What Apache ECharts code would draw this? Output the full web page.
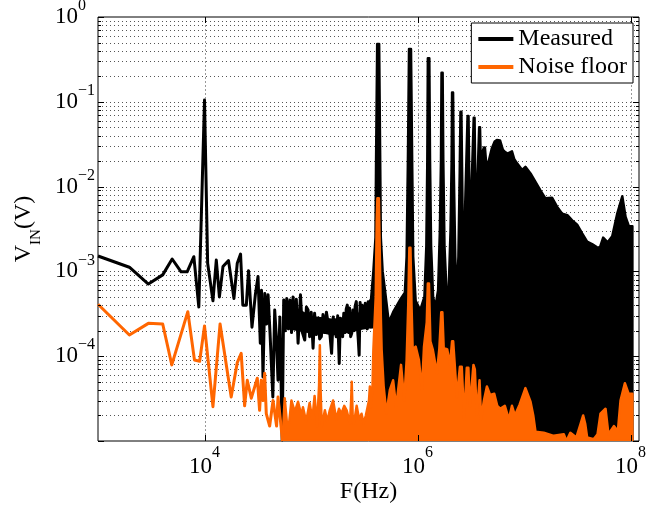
<!DOCTYPE html>
<html><head><meta charset="utf-8">
<script src="https://cdn.jsdelivr.net/npm/echarts@6/dist/echarts.min.js"></script>
<style>html,body{margin:0;padding:0;background:#fff}#c{width:668px;height:506px}</style>
</head><body><div id="c"></div>
<script>
const FONT = "'Liberation Serif','Times New Roman',serif";
const X_MIN = 1e3, X_MAX = 1.2e8, Y_MIN = 1e-5, Y_MAX = 1;
const xLabelledExponents = [4, 6, 8];
const xMajorTicks = [1e4, 1e6, 1e8];
const yDecades = [-5, -4, -3, -2, -1];
const minorMultipliers = [2, 3, 4, 5, 6, 7, 8, 9];
const seriesNames = ['Measured', 'Noise floor'];

// Measured: sparse low-frequency part drawn as a line [Hz, V]
const measuredLine = [
[1000,1.52e-3],[1970,1.12e-3],[2970,7.1e-4],[4050,9.1e-4],[4970,1.4e-3],[6030,9.9e-4],[6870,9.9e-4],
[7940,1.49e-3],[8840,3.8e-4],[10000,0.105],[10700,1.25e-3],[12000,4.5e-4],[12900,1.36e-3],[13800,5.0e-4],
[14900,1.14e-3],[16800,1.34e-3],[18900,4.8e-4],[20300,1.25e-3],[21800,1.6e-3],[22900,4.0e-4],[24700,4.0e-4],
[25900,1.02e-3],[27900,2.2e-4],[30000,5.3e-4],[31800,8.7e-4],[33400,1.42e-4],[34300,6.0e-4],[35400,5.7e-5],
[36800,5.5e-4],[38300,2.4e-4],[39500,5.3e-4],[41200,1.9e-4],[43800,3.3e-5],[45600,3.5e-4],[47200,1.7e-4],
[49000,5.2e-5],[51000,2.9e-4],[53600,1.03e-5],[55400,4.6e-4],[57300,2.0e-4],[59200,4.8e-4],[61300,2.1e-4],
[63500,4.6e-4],[65600,1.9e-4],[67800,5.0e-4],[70200,2.1e-4],[72800,4.7e-4],[75600,1.42e-4],[79600,5.3e-4],
[83000,1.9e-4],[87300,1.55e-4],[90500,3.8e-4],[93800,3.5e-4],[97000,1.7e-4],[100500,3.3e-4],[104500,1.24e-4],
[108000,3.2e-4],[112000,1.8e-4],[116500,2.8e-4],[120500,1.6e-4],[125000,1.7e-4],[129500,3.1e-4],[134000,1.9e-4],
[139500,3.3e-4],[145000,3.35e-4],[150500,1.8e-4],[156000,1.08e-4],[161500,2.9e-4],[167000,3.06e-4],[172500,1.7e-4],
[178000,3.0e-4],[184000,8.2e-5],[188500,2.8e-4],[193000,2.67e-4],[198000,1.7e-4],[203000,3.2e-4],[209000,1.9e-4],
[214000,3.6e-4],[219000,4.0e-4],[224500,1.9e-4],[230000,3.7e-4],[235500,1.7e-4],[241000,1.86e-4],[247000,3.5e-4],
[253000,2.0e-4],[259500,3.9e-4],[266000,4.4e-4],[272500,2.2e-4],[277500,1.6e-4],[283000,1.03e-4],[289000,4.3e-4],
[295000,2.3e-4],[302000,4.0e-4],[309000,4.2e-4],[316000,2.4e-4],[323000,4.2e-4],[330000,2.5e-4],[337000,2.1e-4],
[344000,4.4e-4],[352000,2.6e-4],[360000,4.5e-4],[368000,3.0e-4]
];
// Measured: solid core of the noisy band between 55 kHz and 370 kHz [Hz, V]
const measuredCoreUpper = [[56000,3.2e-4],[80000,3.4e-4],[100000,2.9e-4],[130000,2.8e-4],[160000,2.7e-4],[200000,2.8e-4],[250000,3.0e-4],[300000,3.3e-4],[368000,3.5e-4]];
const measuredCoreLower = [[56000,2.2e-4],[80000,2.0e-4],[100000,1.9e-4],[130000,1.9e-4],[160000,1.8e-4],[200000,1.9e-4],[250000,2.0e-4],[300000,2.1e-4],[368000,2.2e-4]];

// Measured: dense high-frequency part, upper envelope [Hz, V]
const measuredUpper = [
[365000,4.5e-4],[385000,1.0e-3],[403000,2.5e-3],[408000,0.02],[418000,0.48],[436000,0.48],[446000,0.02],
[452000,2.5e-3],[470000,1.0e-3],[494000,6.1e-4],[537000,2.5e-4],[590000,3.3e-4],[684000,4.6e-4],[760000,5.6e-4],
[790000,1.5e-3],[812000,0.02],[832000,0.42],[868000,0.42],[890000,0.02],[910000,1.5e-3],[960000,4.5e-4],
[1060000,3.5e-4],[1160000,5e-4],[1210000,2e-3],[1235000,0.02],[1250000,0.326],[1290000,0.326],[1310000,0.02],
[1340000,2e-3],[1400000,5e-4],[1470000,3.8e-4],[1560000,6e-4],[1620000,3e-3],[1660000,0.02],[1680000,0.22],
[1720000,0.22],[1745000,0.02],[1790000,2e-3],[1880000,5e-4],[1960000,6e-4],[2040000,3e-3],[2090000,0.02],
[2110000,0.129],[2155000,0.129],[2190000,0.015],[2260000,1.5e-3],[2330000,4.6e-4],[2420000,1.5e-3],[2490000,0.015],
[2530000,0.0765],[2580000,0.0765],[2630000,0.01],[2700000,5.6e-4],[2800000,0.006],[2950000,0.068],[3010000,0.068],
[3080000,0.006],[3120000,8e-4],[3200000,0.008],[3370000,0.065],[3430000,0.065],[3500000,0.008],[3550000,8.6e-4],
[3620000,0.008],[3790000,0.05],[3860000,0.05],[3920000,0.02],[4050000,0.025],[4200000,0.029],[4290000,0.029],
[4400000,0.0195],[4640000,0.0195],[4990000,0.0284],[5300000,0.034],[5560000,0.0355],[5950000,0.035],[6340000,0.027],
[6650000,0.0255],[7000000,0.0245],[7700000,0.026],[8100000,0.021],[8600000,0.0188],[9600000,0.0157],[10300000,0.0171],
[11500000,0.0143],[12800000,0.0114],[14200000,9.1e-3],[15800000,7.3e-3],[18300000,7.4e-3],[20400000,5.8e-3],
[22800000,4.8e-3],[25500000,4.6e-3],[28300000,4.0e-3],[31500000,3.55e-3],[35100000,2.8e-3],[39100000,2.24e-3],
[43500000,2.1e-3],[48500000,1.92e-3],[51500000,1.9e-3],[55300000,2.5e-3],[61000000,2.2e-3],[67300000,2.6e-3],
[75000000,4.8e-3],[83600000,7.7e-3],[89800000,4.4e-3],[96500000,3.4e-3],[104000000,3.4e-3]
];
// Measured: dense part, lower envelope [Hz, V]
const measuredLower = [[365000,2.2e-4],[398000,2.2e-4],[404000,1e-5],[104000000,1e-5]];

// Noise floor: sparse low-frequency part drawn as a line [Hz, V]
const noiseLine = [
[1000,4.1e-4],[1970,1.78e-4],[2970,2.44e-4],[4050,2.4e-4],[4930,7.9e-5],[6970,3.35e-4],[8050,9.0e-5],[9000,8.7e-5],
[10000,2.27e-4],[12000,2.54e-5],[14000,2.4e-4],[17800,3.3e-5],[20300,8.4e-5],[22100,1.08e-4],[23800,2.6e-5],
[25200,5.2e-5],[27500,3.2e-5],[31300,5.5e-5],[32900,2.3e-5],[34100,5.2e-5],[35400,3.0e-5],[36700,6.3e-5],
[38000,2.1e-5],[40900,1.5e-5],[44000,3.0e-5],[47500,1.5e-5],[49000,3.3e-5],[51500,1.8e-5],[54000,1.0e-5]
];

// Noise floor: dense part, upper envelope [Hz, V]
const noiseUpper = [
[54000,1.0e-5],[56600,3.2e-5],[60700,1.2e-5],[65500,3.0e-5],[70300,2.2e-5],[75500,2.9e-5],[81300,2.0e-5],
[84000,2.5e-5],[90000,1.7e-5],[97000,2.8e-5],[103000,1.8e-5],[108000,3.4e-5],[114000,1.5e-5],[119000,4.5e-5],
[121000,1.35e-4],[123000,4.0e-5],[126000,1.5e-5],[135000,2.3e-5],[142000,1.7e-5],[150000,2.3e-5],[161000,3.0e-5],
[173000,1.8e-5],[183000,2.4e-5],[193000,2.1e-5],[205000,2.6e-5],[216000,2.3e-5],[232000,1.6e-5],[238000,3.0e-5],
[241000,5.0e-5],[246000,2.0e-5],[253000,1.6e-5],[268000,2.6e-5],[283000,1.8e-5],[298000,2.1e-5],[312000,1.6e-5],
[327000,2.0e-5],[350000,3.0e-5],[357000,4.4e-5],[365000,2.5e-5],[378000,4.5e-5],[385000,1.2e-4],[405000,5e-4],
[414000,4e-3],[420000,7.3e-3],[433000,7.3e-3],[441000,2e-3],[452000,3e-4],[460000,1.2e-4],[480000,4.5e-5],
[510000,2.1e-5],[550000,4.0e-5],[590000,5.2e-5],[630000,2.5e-5],[700000,7.9e-5],[750000,3.0e-5],[790000,9.0e-5],
[818000,4.0e-4],[838000,1.9e-3],[858000,1.9e-3],[878000,4.0e-4],[900000,1.2e-4],[960000,1.3e-4],[1030000,9.0e-5],
[1100000,4.0e-5],[1150000,1.3e-4],[1220000,2.5e-4],[1250000,7.2e-4],[1280000,7.2e-4],[1320000,1.5e-4],
[1390000,1.2e-4],[1520000,6.3e-5],[1600000,1.2e-4],[1670000,3.3e-4],[1710000,3.3e-4],[1760000,1.25e-4],
[1900000,1.2e-4],[2020000,8.0e-5],[2110000,1.5e-4],[2160000,1.5e-4],[2250000,7.0e-5],[2340000,3.3e-5],
[2500000,7.5e-5],[2600000,7.5e-5],[2740000,1.8e-5],[2900000,7.3e-5],[3000000,7.3e-5],[3100000,2.5e-5],
[3350000,7.9e-5],[3450000,7.0e-5],[3600000,2.0e-5],[3820000,5.2e-5],[3950000,1.8e-5],[4200000,3.0e-5],
[4480000,4.4e-5],[4800000,3.5e-5],[5250000,3.6e-5],[5600000,2.6e-5],[5970000,2.4e-5],[6600000,2.6e-5],
[7200000,1.8e-5],[7700000,2.6e-5],[8200000,2.0e-5],[9100000,2.7e-5],[10300000,4.2e-5],[11500000,2.9e-5],
[12200000,2.0e-5],[12800000,1.29e-5],[15300000,1.25e-5],[19000000,1.15e-5],[23600000,1.2e-5],[25000000,1.0e-5],
[27200000,1.25e-5],[31000000,1.1e-5],[34000000,1.6e-5],[35900000,2.0e-5],[37500000,1.6e-5],[39100000,1.1e-5],
[45000000,1.05e-5],[49000000,1.2e-5],[52200000,2.1e-5],[58200000,2.4e-5],[62000000,1.2e-5],[69700000,1.5e-5],
[76000000,1.3e-5],[80500000,3.0e-5],[88400000,4.8e-5],[96000000,3.6e-5],[104000000,3.6e-5]
];
const noiseLower = [[54000,1e-5],[104000000,1e-5]];

const BLACK = '#000000', ORANGE = '#ff6600';

function expOf(v){ return Math.round(Math.log10(v)); }
function isDecade(v){ const e = Math.log10(v); return Math.abs(e - Math.round(e)) < 1e-6; }
function supLabel(e){ return '{b|10}{s|' + (e < 0 ? '\u2212' + (-e) : String(e)) + '}'; }
function makeRich(lh){
  return {
    b: {fontFamily: FONT, fontSize: 23, color: '#000', lineHeight: lh, verticalAlign: 'middle'},
    s: {fontFamily: FONT, fontSize: 16, color: '#000', lineHeight: 16, verticalAlign: 'top'}
  };
}

function bandSeries(name, upper, lower, color, z, lw){
  return {
    type: 'custom', name: name, z: z, silent: true, clip: true,
    data: [[upper[0][0], upper[0][1]]], encode: {x: 0, y: 1},
    renderItem: function(params, api){
      const pts = upper.concat(lower.slice().reverse()).map(p => api.coord(p));
      return {type: 'polygon', shape: {points: pts},
        style: {fill: color, stroke: color, lineWidth: lw, lineJoin: 'round'}};
    }
  };
}

function gridRender(params, api){
  const cs = params.coordSys;
  const x0 = cs.x, x1 = cs.x + cs.width, y0 = cs.y, y1 = cs.y + cs.height;
  const ch = [];
  yDecades.forEach(d => {
    [1].concat(minorMultipliers).forEach(m => {
      const v = m * Math.pow(10, d);
      if (v <= Y_MIN * 1.0001 || v >= Y_MAX * 0.9999) return;
      const y = Math.round(api.coord([X_MIN, v])[1]) + 0.5;
      ch.push({type: 'line', shape: {x1: x0, y1: y, x2: x1, y2: y},
        style: {stroke: '#555', lineWidth: 1, lineDash: [1, 3]}});
    });
  });
  xMajorTicks.forEach(f => {
    const x = Math.round(api.coord([f, Y_MIN])[0]) + 0.5;
    ch.push({type: 'line', shape: {x1: x, y1: y0, x2: x, y2: y1},
      style: {stroke: '#999', lineWidth: 1, lineDash: [2, 2]}});
  });
  return {type: 'group', children: ch};
}

function tickRender(params, api){
  const cs = params.coordSys;
  const x0 = cs.x, x1 = cs.x + cs.width, y0 = cs.y, y1 = cs.y + cs.height;
  const ch = [];
  const st = {stroke: '#000', lineWidth: 1};
  yDecades.concat([0]).forEach(d => {
    [1].concat(minorMultipliers).forEach(m => {
      const v = m * Math.pow(10, d);
      if (v < Y_MIN * 0.9999 || v > Y_MAX * 1.0001) return;
      const y = Math.round(api.coord([X_MIN, v])[1]) + 0.5;
      const len = m === 1 ? 6 : 3;
      ch.push({type: 'line', shape: {x1: x0, y1: y, x2: x0 + len, y2: y}, style: st});
      ch.push({type: 'line', shape: {x1: x1 - len, y1: y, x2: x1, y2: y}, style: st});
    });
  });
  xMajorTicks.forEach(f => {
    const x = Math.round(api.coord([f, Y_MIN])[0]) + 0.5;
    ch.push({type: 'line', shape: {x1: x, y1: y1, x2: x, y2: y1 - 6}, style: st});
    ch.push({type: 'line', shape: {x1: x, y1: y0, x2: x, y2: y0 + 6}, style: st});
  });
  return {type: 'group', children: ch};
}

const chart = echarts.init(document.getElementById('c'), null, {renderer: 'canvas'});
chart.setOption({
  animation: false,
  backgroundColor: '#fff',
  grid: {left: 98, top: 17, right: 29, bottom: 65, outerBoundsMode: 'none', containLabel: false,
    show: true, borderColor: '#000', borderWidth: 1, backgroundColor: 'transparent'},
  legend: {
    data: seriesNames, orient: 'vertical', right: 35, top: 23, selectedMode: false,
    backgroundColor: '#fff', borderColor: '#000', borderWidth: 1, borderRadius: 0,
    padding: [4, 6, 4, 7], itemWidth: 35, itemHeight: 4, itemGap: 4, icon: 'rect',
    textStyle: {fontFamily: FONT, fontSize: 24, color: '#000', lineHeight: 24}
  },
  xAxis: {
    type: 'log', logBase: 10, min: X_MIN, max: X_MAX,
    axisLine: {show: false}, axisTick: {show: false}, splitLine: {show: false}, minorTick: {show: false},
    axisLabel: {
      margin: 4, rich: makeRich(44),
      formatter: v => { if (!isDecade(v)) return ''; const e = expOf(v); return xLabelledExponents.indexOf(e) >= 0 ? supLabel(e) : ''; }
    },
    name: 'F(Hz)', nameLocation: 'middle', nameGap: 39, nameMoveOverlap: false,
    nameTextStyle: {fontFamily: FONT, fontSize: 24, color: '#000'}
  },
  yAxis: {
    type: 'log', logBase: 10, min: Y_MIN, max: Y_MAX,
    axisLine: {show: false}, axisTick: {show: false}, splitLine: {show: false}, minorTick: {show: false},
    axisLabel: {
      margin: 43, align: 'left', rich: makeRich(38),
      formatter: v => { if (!isDecade(v)) return ''; const e = expOf(v); return e >= -4 && e <= 0 ? supLabel(e) : ''; }
    },
    name: '{v|V}{sub|IN}{v|(V)}', nameLocation: 'middle', nameGap: 54, nameRotate: 90, nameMoveOverlap: false,
    nameTextStyle: {rich: {
      v: {fontFamily: FONT, fontSize: 24, color: '#000', lineHeight: 40, verticalAlign: 'middle'},
      sub: {fontFamily: FONT, fontSize: 15, color: '#000', lineHeight: 15, verticalAlign: 'bottom'}
    }}
  },
  series: [
    {type: 'custom', name: 'grid', z: 1, silent: true, data: [[1e4, 1e-3]], encode: {x: 0, y: 1}, renderItem: gridRender},
    bandSeries('Measured core', measuredCoreUpper, measuredCoreLower, BLACK, 2, 2),
    {type: 'line', name: seriesNames[0], z: 2, data: measuredLine, showSymbol: false, symbol: 'none', sampling: null,
      color: BLACK, itemStyle: {color: BLACK}, lineStyle: {color: BLACK, width: 3, join: 'round'}},
    bandSeries('Measured band', measuredUpper, measuredLower, BLACK, 2, 2.5),
    {type: 'line', name: seriesNames[1], z: 3, data: noiseLine, showSymbol: false, symbol: 'none',
      color: ORANGE, itemStyle: {color: ORANGE}, lineStyle: {color: ORANGE, width: 3, join: 'round'}},
    bandSeries('Noise band', noiseUpper, noiseLower, ORANGE, 3, 2.5),
    {type: 'custom', name: 'ticks', z: 6, silent: true, data: [[1e4, 1e-3]], encode: {x: 0, y: 1}, renderItem: tickRender}
  ]
});
</script>
</body></html>
